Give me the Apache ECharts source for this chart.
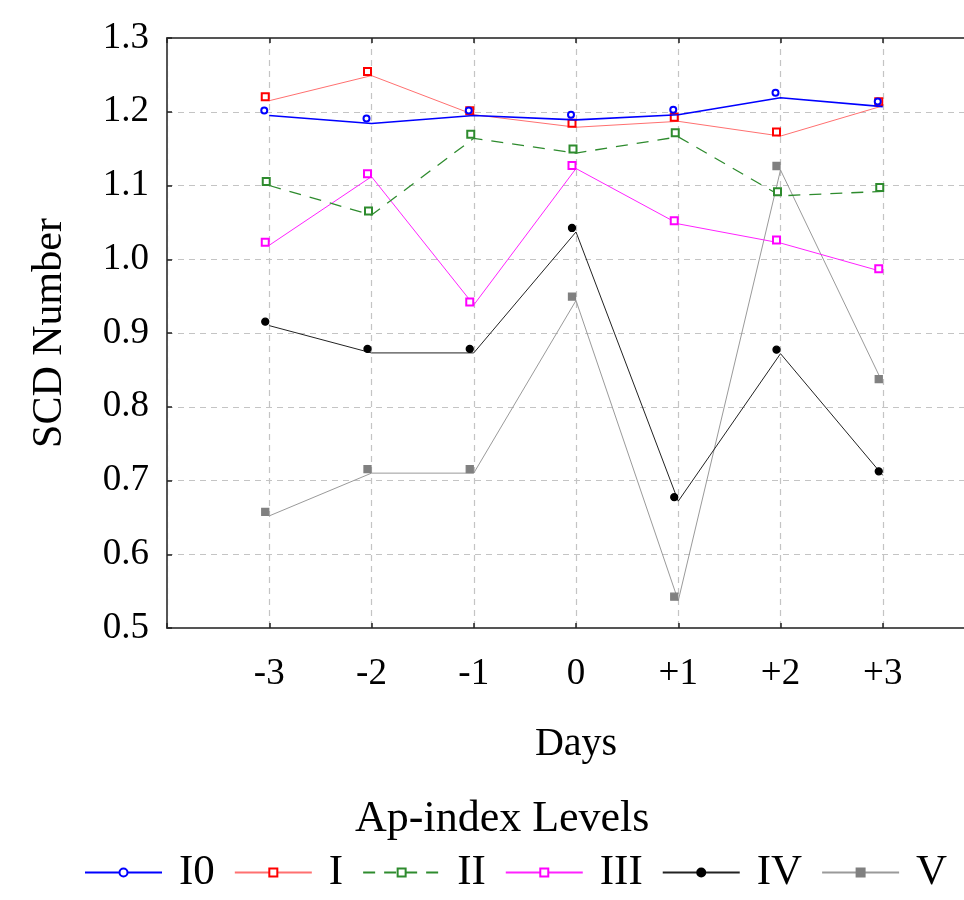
<!DOCTYPE html>
<html>
<head>
<meta charset="utf-8">
<script src="https://cdn.jsdelivr.net/npm/echarts@6/dist/echarts.min.js"></script>
<style>
html,body{margin:0;padding:0;background:#fff;overflow:hidden;}
#chart{width:964px;height:900px;}
</style>
</head>
<body>
<div id="chart"></div>
<script>
const days = [-3, -2, -1, 0, 1, 2, 3];
const dayLabels = ['-3', '-2', '-1', '0', '+1', '+2', '+3'];
const yTicks = [0.5, 0.6, 0.7, 0.8, 0.9, 1.0, 1.1, 1.2, 1.3];
const seriesNames = ['I0', 'I', 'II', 'III', 'IV', 'V'];
const valuesI0  = [1.195, 1.184, 1.195, 1.189, 1.196, 1.219, 1.207];
const valuesI   = [1.215, 1.249, 1.196, 1.179, 1.187, 1.167, 1.208];
const valuesII  = [1.100, 1.060, 1.164, 1.144, 1.166, 1.086, 1.092];
const valuesIII = [1.019, 1.112, 0.938, 1.123, 1.048, 1.022, 0.983];
const valuesIV  = [0.910, 0.873, 0.873, 1.037, 0.672, 0.872, 0.707];
const valuesV   = [0.652, 0.710, 0.710, 0.944, 0.537, 1.121, 0.832];
const xName = 'Days';
const yName = 'SCD Number';
const legendTitle = 'Ap-index Levels';

const FONT = 'Liberation Serif';
const pairs = vals => days.map((d, i) => [d, vals[i]]);

const styles = [
  {color: '#0000ff', width: 1.6, type: 'solid', symbol: 'emptyCircle', size: 6, off: [-5, -5]},
  {color: '#ff7070', width: 1, type: 'solid', symbol: 'emptyRect', size: 7, mcolor: '#ff0000', off: [-4, -4]},
  {color: '#2e8b2e', width: 1.3, type: [12, 9], symbol: 'emptyRect', size: 7, off: [-3, -4]},
  {color: '#ff22ff', width: 1, type: 'solid', symbol: 'emptyRect', size: 7, mcolor: '#ff00ff', off: [-4, -3]},
  {color: '#222222', width: 1, type: 'solid', symbol: 'circle', size: 7, mcolor: '#000', off: [-4, -4]},
  {color: '#9a9a9a', width: 1, type: 'solid', symbol: 'rect', size: 7, mcolor: '#808080', off: [-4, -4]}
];
const allValues = [valuesI0, valuesI, valuesII, valuesIII, valuesIV, valuesV];

const series = allValues.map((vals, k) => {
  const s = styles[k];
  return {
    name: seriesNames[k],
    type: 'line',
    data: pairs(vals),
    symbol: s.symbol,
    symbolSize: s.size,
    symbolOffset: s.off,
    showAllSymbol: true,
    lineStyle: {color: s.color, width: s.width, type: s.type},
    itemStyle: {color: s.mcolor || s.color, borderColor: s.mcolor || s.color, borderWidth: 1.3},
    emphasis: {disabled: true},
    animation: false,
    z: 10 - k
  };
});

const splitLineStyle = {show: true, lineStyle: {color: '#c4c4c4', width: 1.2, type: [6, 5]}};
const axisLineStyle = {show: true, onZero: false, lineStyle: {color: '#555', width: 2}};

const chart = echarts.init(document.getElementById('chart'), null, {renderer: 'canvas'});
chart.setOption({
  backgroundColor: '#fff',
  animation: false,
  grid: {left: 167, top: 38, width: 818, height: 590, containLabel: false, outerBoundsMode: 'none'},
  xAxis: [{
    type: 'value', min: -4, max: 4, interval: 1,
    name: xName, nameLocation: 'middle', nameGap: 96,
    nameTextStyle: {fontFamily: FONT, fontSize: 40, color: '#000'},
    axisLine: axisLineStyle,
    axisTick: {show: true, inside: true, length: 5, lineStyle: {color: '#222', width: 1.5}},
    axisLabel: {
      fontFamily: FONT, fontSize: 37, color: '#000', margin: 28,
      formatter: v => { const i = days.indexOf(Math.round(v)); return i >= 0 && Math.abs(v - days[i]) < 1e-6 ? dayLabels[i] : ''; }
    },
    splitLine: splitLineStyle
  }, {
    type: 'value', min: -4, max: 4, interval: 1, position: 'top',
    axisLine: axisLineStyle,
    axisTick: {show: true, inside: true, length: 5, lineStyle: {color: '#222', width: 1.5}},
    axisLabel: {show: false},
    splitLine: {show: false}
  }],
  yAxis: {
    type: 'value', min: yTicks[0], max: yTicks[yTicks.length - 1], interval: 0.1,
    name: yName, nameLocation: 'middle', nameGap: 96, nameRotate: 90,
    nameTextStyle: {fontFamily: FONT, fontSize: 42, color: '#000'},
    axisLine: axisLineStyle,
    axisTick: {show: true, inside: true, length: 5, lineStyle: {color: '#222', width: 1.5}},
    axisLabel: {fontFamily: FONT, fontSize: 37, color: '#000', margin: 18, formatter: v => v.toFixed(1)},
    splitLine: splitLineStyle
  },
  legend: {
    data: seriesNames,
    orient: 'horizontal',
    left: 84, top: 851, padding: 0,
    itemWidth: 77, itemHeight: 10, itemGap: 19,
    textStyle: {fontFamily: FONT, fontSize: 43, color: '#000', padding: [0, 0, 0, 12]},
    selectedMode: false
  },
  graphic: [{
    type: 'text', left: 355, top: 797,
    style: {text: legendTitle, fontFamily: FONT, fontSize: 44, fill: '#000'}
  }],
  series: series
});
</script>
</body>
</html>
